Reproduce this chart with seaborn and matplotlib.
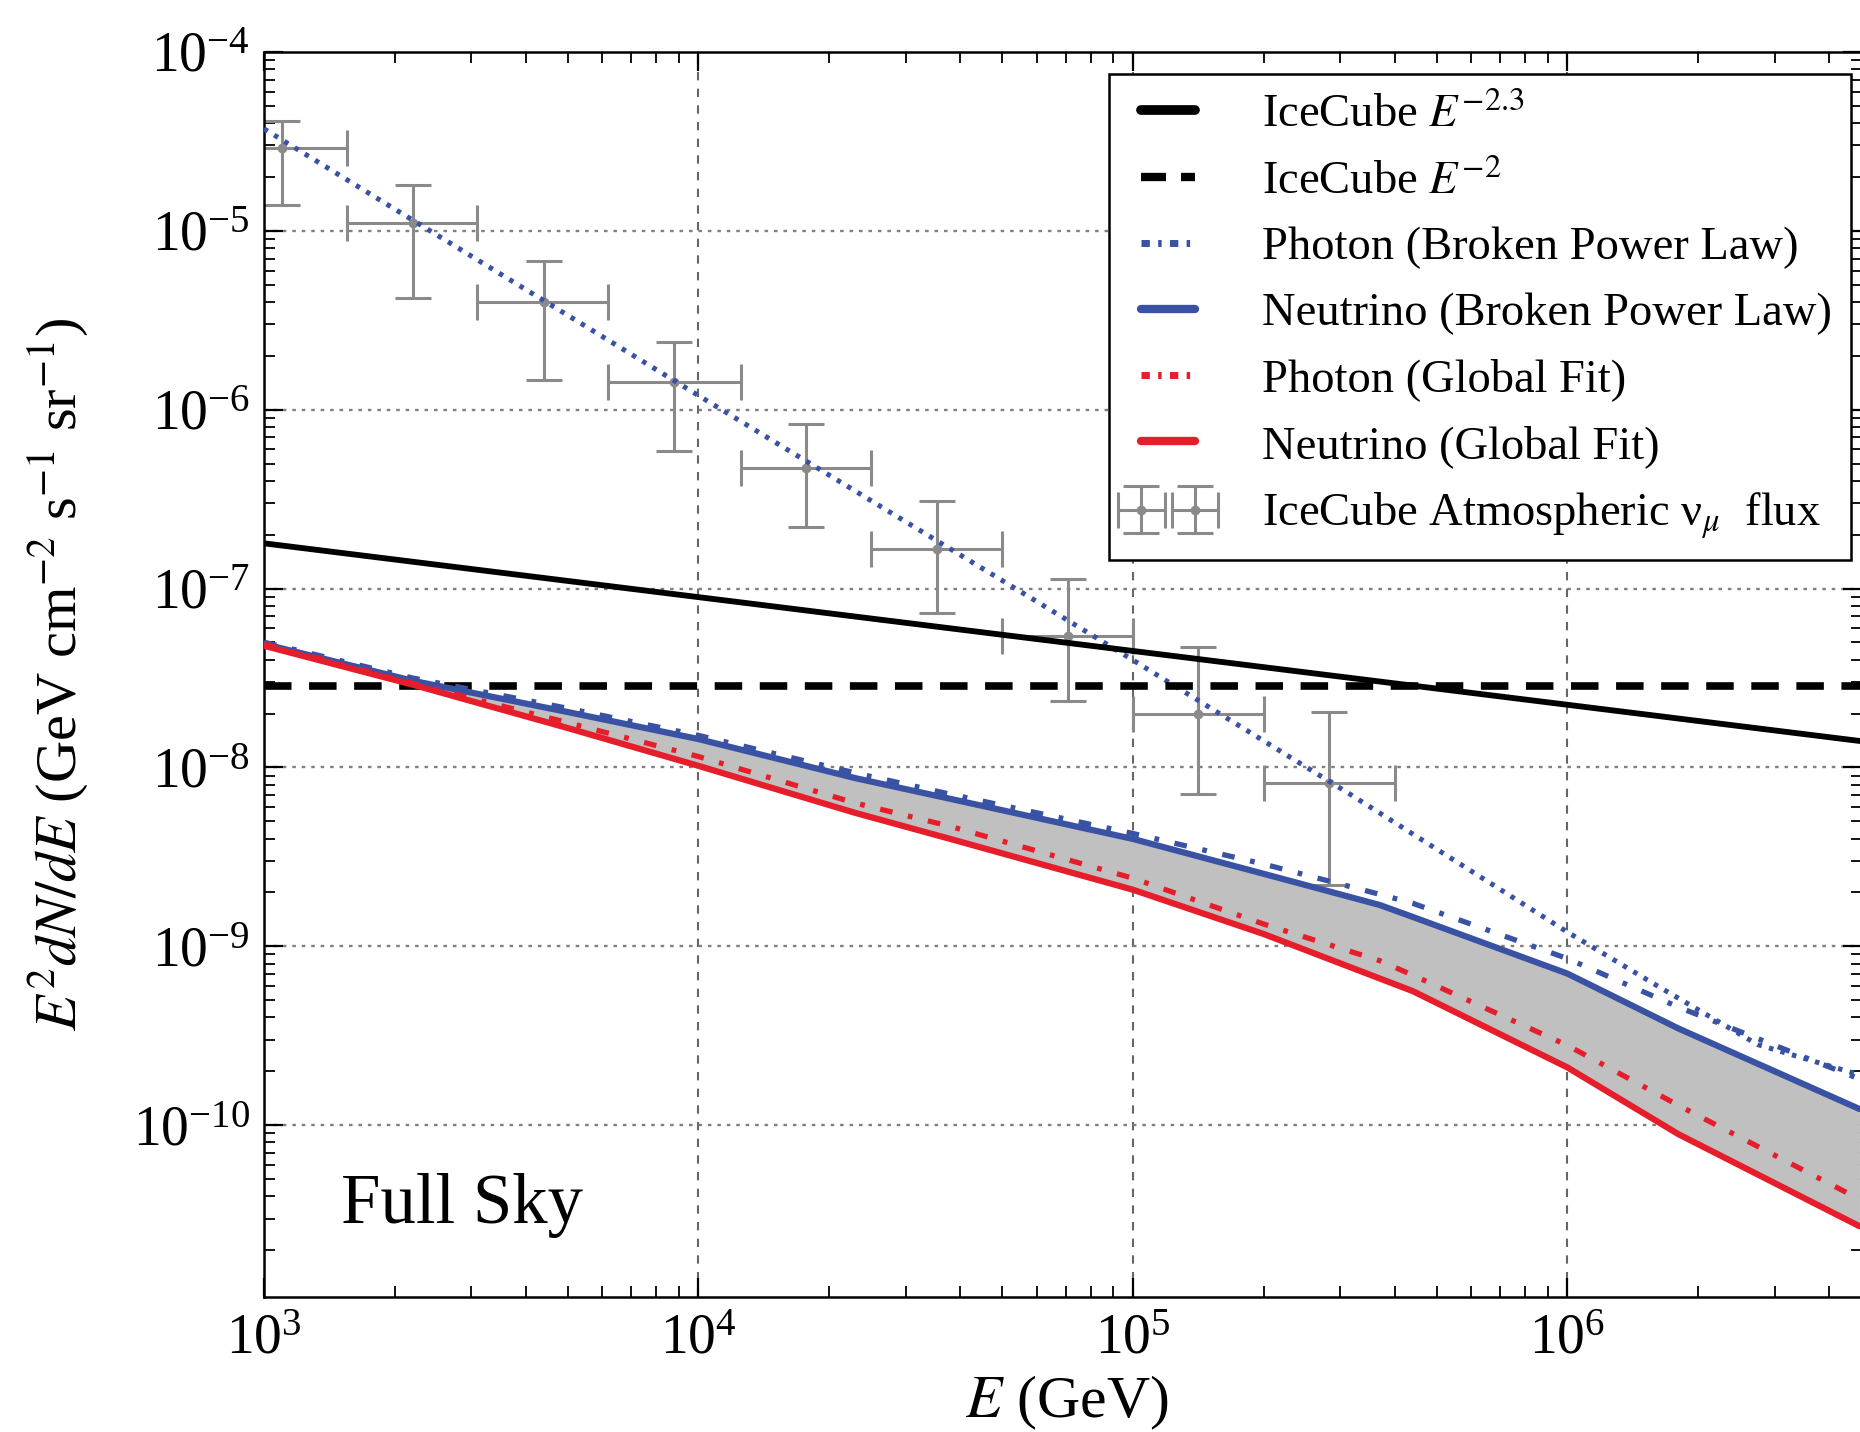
import numpy as np
import pandas as pd
import matplotlib
matplotlib.use("Agg")
import matplotlib.pyplot as plt
import seaborn as sns
from matplotlib.lines import Line2D

# ---------------- data ----------------
E_model = [1.0e3, 2.2e3, 5.0e3, 1.0e4, 2.3e4, 3.8e4, 1.0e5, 2.0e5, 3.7e5, 4.4e5, 1.0e6, 1.8e6, 4.7e6]
nu_bpl = [4.90e-8, 3.05e-8, 2.04e-8, 1.44e-8, 8.7e-9, 6.67e-9, 3.98e-9, 2.54e-9, 1.70e-9, 1.46e-9, 7.03e-10, 3.47e-10, 1.23e-10]
nu_gf = [4.79e-8, 2.90e-8, 1.66e-8, 1.02e-8, 5.56e-9, 3.98e-9, 2.07e-9, 1.17e-9, 6.6e-10, 5.62e-10, 2.10e-10, 8.9e-11, 2.72e-11]
gam_bpl = [5.01e-8, 3.16e-8, 2.14e-8, 1.51e-8, 9.3e-9, 7.08e-9, 4.27e-9, 2.88e-9, 1.95e-9, 1.74e-9, 8.53e-10, 4.57e-10, 1.81e-10]
gam_gf = [4.90e-8, 2.95e-8, 1.78e-8, 1.15e-8, 6.31e-9, 4.68e-9, 2.40e-9, 1.33e-9, 8.3e-10, 6.9e-10, 2.79e-10, 1.29e-10, 3.85e-11]

E_atm_model = [1.0e3, 1.0e4, 1.0e5, 3.16e5, 1.0e6, 1.58e6, 2.74e6, 4.7e6]
atm_model = [3.72e-5, 1.20e-6, 3.98e-8, 7.08e-9, 1.20e-9, 6.17e-10, 2.82e-10, 1.91e-10]

E_ic = [1.0e3, 4.76e6]
ic_e23 = [1.79e-7, 1.40e-8]
ic_e2 = [2.85e-8, 2.85e-8]

E_atm = [1.1e3, 2.2e3, 4.4e3, 8.8e3, 1.77e4, 3.54e4, 7.07e4, 1.41e5, 2.82e5]
E_atm_lo = [7.8e2, 1.55e3, 3.1e3, 6.2e3, 1.25e4, 2.5e4, 5.0e4, 1.0e5, 2.0e5]
E_atm_hi = [1.55e3, 3.1e3, 6.2e3, 1.25e4, 2.5e4, 5.0e4, 1.0e5, 2.0e5, 4.0e5]
atm_flux = [2.9e-5, 1.1e-5, 4.0e-6, 1.42e-6, 4.7e-7, 1.66e-7, 5.4e-8, 2.0e-8, 8.2e-9]
atm_lo = [1.4e-5, 4.2e-6, 1.47e-6, 5.9e-7, 2.2e-7, 7.3e-8, 2.35e-8, 7.1e-9, 2.2e-9]
atm_hi = [4.1e-5, 1.81e-5, 6.8e-6, 2.38e-6, 8.3e-7, 3.1e-7, 1.13e-7, 4.7e-8, 2.05e-8]

labels = [r"IceCube $E^{-2.3}$", r"IceCube $E^{-2}$", "Photon (Broken Power Law)",
          "Neutrino (Broken Power Law)", "Photon (Global Fit)", "Neutrino (Global Fit)",
          r"IceCube Atmospheric ν$_{\mu}$  flux"]

# ---------------- style ----------------
sns.set_theme(style="ticks")
plt.rcParams["font.family"] = ["Liberation Serif", "DejaVu Serif"]
plt.rcParams["mathtext.fontset"] = "stix"
for k in ["text.color", "axes.labelcolor", "xtick.color", "ytick.color", "axes.edgecolor"]:
    plt.rcParams[k] = "black"

BLUE = "#3a52a3"
RED = "#e61e2b"
GREY = "#8a8a8a"

fig = plt.figure(figsize=(18.6, 14.32), dpi=100)
ax = fig.add_axes([0.1419, 0.0943, 0.8591, 0.8694])
ax.set_xscale("log")
ax.set_yscale("log")

df = pd.DataFrame({"E": E_model, "nu_bpl": nu_bpl, "nu_gf": nu_gf,
                   "gam_bpl": gam_bpl, "gam_gf": gam_gf})

ax.fill_between(df["E"], df["nu_gf"], df["nu_bpl"], color="#c0c0c0", lw=0, zorder=1)

sns.lineplot(x=E_atm_model, y=atm_model, ax=ax, color=BLUE, lw=3.6,
             linestyle=(0, (0.9, 1.5)), zorder=3)
sns.lineplot(x=E_ic, y=ic_e23, ax=ax, color="black", lw=4.2, zorder=4)
sns.lineplot(x=E_ic, y=ic_e2, ax=ax, color="black", lw=5.5,
             linestyle=(0, (3.6, 2.3)), zorder=4)
sns.lineplot(data=df, x="E", y="nu_bpl", ax=ax, color=BLUE, lw=4.5, zorder=4)
sns.lineplot(data=df, x="E", y="nu_gf", ax=ax, color=RED, lw=4.5, zorder=4)
dd = (0, (2.4, 3.0, 0.9, 3.0))
sns.lineplot(data=df, x="E", y="gam_bpl", ax=ax, color=BLUE, lw=3.8, linestyle=dd, zorder=5)
sns.lineplot(data=df, x="E", y="gam_gf", ax=ax, color=RED, lw=3.8, linestyle=dd, zorder=5)

atm_flux_a = np.array(atm_flux)
E_atm_a = np.array(E_atm)
yerr = [atm_flux_a - np.array(atm_lo), np.array(atm_hi) - atm_flux_a]
xerr = [E_atm_a - np.array(E_atm_lo), np.array(E_atm_hi) - E_atm_a]
eb = ax.errorbar(E_atm, atm_flux, yerr=yerr, xerr=xerr, fmt="o", ms=6,
                 color=GREY, ecolor=GREY, elinewidth=2.2, capsize=13, capthick=2.2,
                 zorder=2)

ax.set_xlim(1e3, 4.76e6)
ax.set_ylim(1.094e-11, 1e-4)

# grid
for xv in [1e4, 1e5, 1e6]:
    ax.axvline(xv, color="#666666", lw=1.5, linestyle=(0, (4, 4)), zorder=0)
for p in range(-10, -4):
    ax.axhline(10.0 ** p, color="#808080", lw=1.7, linestyle=(0, (1.5, 2.5)), zorder=0)

ax.set_yticks([10.0 ** p for p in range(-10, -3)])
ax.set_xticks([1e3, 1e4, 1e5, 1e6])
ax.tick_params(which="both", direction="in", top=True, right=True, colors="black")
ax.tick_params(which="major", length=14, width=1.6, labelsize=40, pad=10)
ax.tick_params(which="minor", length=8, width=1.3)
ax.tick_params(axis="x", which="major", pad=12)
for s in ax.spines.values():
    s.set_linewidth(1.8)
    s.set_color("black")

ax.set_xlabel(r"$E$ (GeV)", fontsize=43)
ax.set_ylabel(r"$E^2dN/dE$ (GeV cm$^{-2}$ s$^{-1}$ sr$^{-1}$)", fontsize=42)
ax.xaxis.set_label_coords(0.5025, -0.062)
ax.yaxis.set_label_coords(-0.108, 0.50)

ax.text(0.048, 0.0594, "Full Sky", transform=ax.transAxes, fontsize=51,
        va="baseline", ha="left")

handles = [
    Line2D([], [], color="black", lw=7),
    Line2D([], [], color="black", lw=6, linestyle=(0, (3.0, 1.8))),
    Line2D([], [], color=BLUE, lw=5, linestyle=(0, (1.2, 1.2, 0.5, 1.2))),
    Line2D([], [], color=BLUE, lw=6),
    Line2D([], [], color=RED, lw=5, linestyle=(0, (1.2, 1.2, 0.5, 1.2))),
    Line2D([], [], color=RED, lw=6),
    eb,
]
leg = ax.legend(handles, labels, loc="upper left", bbox_to_anchor=(0.5288, 0.9823),
                fontsize=33.5, frameon=True, fancybox=False, framealpha=1,
                edgecolor="black", handlelength=1.75, handletextpad=1.15,
                labelspacing=0.5, borderpad=0.4, numpoints=2, borderaxespad=0,
                labelcolor="black")
leg.get_frame().set_linewidth(1.8)
leg.set_zorder(10)

fig.savefig("out.png", dpi=100)
